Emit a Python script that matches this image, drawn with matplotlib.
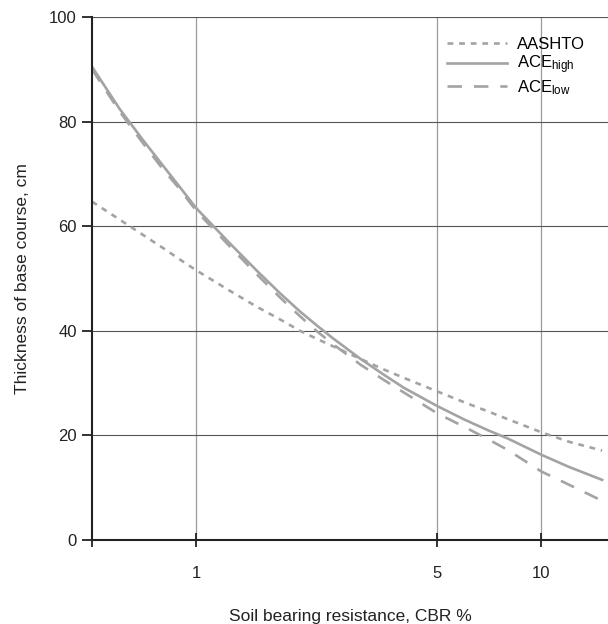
import numpy as np
import matplotlib.pyplot as plt

fam = ['Liberation Sans', 'DejaVu Sans']
plt.rcParams['font.family'] = fam
plt.rcParams['mathtext.fontset'] = 'custom'
plt.rcParams['mathtext.rm'] = fam[0]
plt.rcParams['mathtext.it'] = fam[0]

# CBR values (%) and thickness (cm)
cbr = [0.5, 0.6, 0.7, 0.8, 0.9, 1, 1.25, 1.5, 1.75, 2, 2.25, 2.5, 3, 3.5, 4, 5, 6, 7, 8, 10, 12, 15]
aashto = [64.7, 61.3, 58.4, 55.9, 53.6, 51.6, 47.7, 44.6, 42.2, 40.0, 38.4, 37.0, 34.6, 32.6,
          31.0, 28.4, 26.3, 24.6, 23.1, 20.6, 18.8, 17.1]
ace_high = [90.5, 82.5, 76.6, 71.7, 67.4, 63.5, 56.8, 51.5, 47.2, 43.7, 40.9, 38.5, 34.6, 31.6,
            29.1, 25.6, 23.0, 21.0, 19.4, 16.3, 14.0, 11.5]
ace_low = [90.0, 82.0, 76.0, 71.0, 67.0, 63.0, 56.2, 50.8, 46.4, 42.8, 39.8, 37.4, 33.5, 30.6,
           28.2, 24.2, 21.6, 19.3, 17.2, 13.1, 10.6, 7.5]

x_ticks = [0.5, 1, 5, 10]
x_labels = ['', '1', '5', '10']
y_ticks = [0, 20, 40, 60, 80, 100]

col = '#a3a3a3'
fig = plt.figure(figsize=(6.08, 6.24), dpi=100)
ax = fig.add_axes([92/608, 84/624, 516/608, 523/624])

ax.plot(cbr, aashto, color=col, lw=1.9, linestyle=(0, (2.2, 2.2)), label='AASHTO')
ax.plot(cbr, ace_high, color=col, lw=1.9, label='ACE$_{high}$')
ax.plot(cbr, ace_low, color=col, lw=1.9, linestyle=(0, (5.5, 4.5)), label='ACE$_{low}$')

ax.set_xscale('log')
ax.set_xlim(0.5, 15.6)
ax.set_ylim(0, 100)
ax.set_xticks(x_ticks)
ax.set_xticklabels(x_labels)
ax.xaxis.set_minor_locator(plt.NullLocator())
ax.set_yticks(y_ticks)

for v in [1, 5, 10]:
    ax.axvline(v, color='#9a9a9a', lw=0.9, zorder=0)
for v in [20, 40, 60, 80, 100]:
    ax.axhline(v, color='#555555', lw=0.8, zorder=0)

for s in ['top', 'right']:
    ax.spines[s].set_visible(False)
for s in ['left', 'bottom']:
    ax.spines[s].set_linewidth(1.5)
    ax.spines[s].set_color('#222222')

ax.tick_params(axis='x', direction='inout', length=10, width=1.3, pad=14,
               labelsize=12, colors='#222222')
ax.tick_params(axis='y', direction='out', length=7, width=1.3, pad=4,
               labelsize=12, colors='#222222')

ax.set_xlabel('Soil bearing resistance, CBR %', fontsize=12.5, labelpad=20, color='#222222')
ax.set_ylabel('Thickness of base course, cm', fontsize=12.5, labelpad=14, color='#222222')

leg = ax.legend(loc='upper right', bbox_to_anchor=(0.985, 0.99), frameon=False,
                fontsize=12, handlelength=3.6, handletextpad=0.6, labelspacing=0.1)

fig.savefig('out.png', dpi=100)
